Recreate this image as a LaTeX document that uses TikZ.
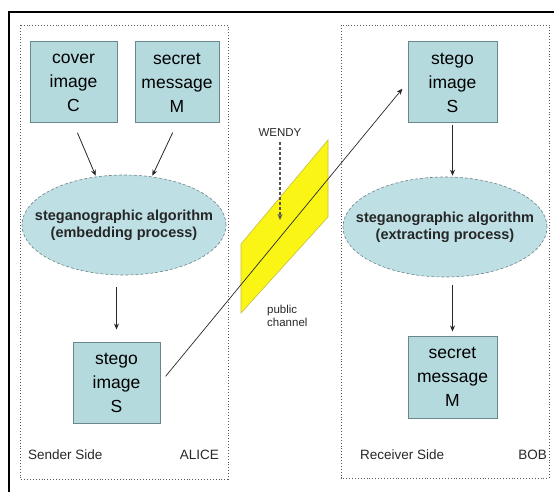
\documentclass[tikz,border=0pt]{standalone}
\usepackage{fontspec}
\setmainfont{Liberation Sans}
\usetikzlibrary{shapes.geometric,arrows.meta}

\definecolor{boxfill}{RGB}{180,218,222}
\definecolor{boxline}{RGB}{105,135,140}
\definecolor{ellfill}{RGB}{190,224,229}
\definecolor{ellline}{RGB}{110,130,135}
\definecolor{chanfill}{RGB}{250,245,20}
\definecolor{chanline}{RGB}{200,190,60}
\definecolor{ink}{RGB}{40,40,40}

\tikzset{
  databox/.style={draw=boxline, line width=1pt, fill=boxfill, align=center,
    font=\fontsize{17.5}{24}\selectfont, inner sep=0pt},
  algo/.style={ellipse, draw=ellline, densely dashed, line width=0.6pt, fill=ellfill,
    inner sep=0pt, minimum width=204pt, minimum height=100pt},
  algotext/.style={align=center, inner sep=0pt, text=black!85,
    font=\bfseries\fontsize{14.5}{17}\selectfont},
  sidebox/.style={draw=gray!70!black, dotted, line width=0.9pt},
  flow/.style={draw=ink, line width=0.8pt, -{Stealth[length=6pt,width=5pt]}},
  caption/.style={font=\fontsize{13.5}{15}\selectfont, text=ink, inner sep=0pt},
}

\begin{document}
\begin{tikzpicture}[x=1pt, y=-1pt]
  \useasboundingbox (0,0) rectangle (554,492);
  \fill[white] (0,0) rectangle (554,492);

  % outer frame (top and left edges)
  \draw[black, line width=1.8pt] (9,492) -- (9,12) -- (554,12);

  % sender and receiver areas
  \draw[sidebox] (20,25) rectangle (228,479);
  \draw[sidebox] (341,25) rectangle (549,478);

  % public channel
  \fill[chanfill, draw=chanline, line width=0.6pt]
    (241,244) -- (328,140) -- (328,217) -- (241,313) -- cycle;
  \node[inner sep=0pt, font=\fontsize{11.5}{13}\selectfont, text=ink, align=left, anchor=north west]
    (pub) at (267,305) {public\\channel};

  % sender side
  \node[databox, minimum width=87pt, minimum height=81pt] (cover) at (73.5,82.5)
    {cover\\image\\C};
  \node[databox, minimum width=84pt, minimum height=81pt] (secret) at (177,82.5)
    {secret\\message\\M};
  \node[algo] (enc) at (124,225) {};
  \node[algotext] (enctext) at (enc.center)
    {steganographic algorithm\\(embedding process)};
  \node[databox, minimum width=87pt, minimum height=81pt] (stegoA) at (116.5,382.5)
    {stego\\image\\S};
  \node[caption, anchor=west] (sender) at (28,455) {Sender Side};
  \node[caption, anchor=east] (alice) at (219,455) {ALICE};

  % receiver side
  \node[databox, minimum width=89pt, minimum height=81pt] (stegoB) at (452.5,82.5)
    {stego\\image\\S};
  \node[algo] (dec) at (445,227) {};
  \node[algotext] (dectext) at (dec.center)
    {steganographic algorithm\\(extracting process)};
  \node[databox, minimum width=89pt, minimum height=82pt] (secretB) at (452.5,377)
    {secret\\message\\M};
  \node[caption, anchor=west] (receiver) at (360,455) {Receiver Side};
  \node[caption, anchor=east] (bob) at (547,455) {BOB};

  % eavesdropper
  \node[inner sep=1pt, font=\fontsize{11.5}{13}\selectfont, text=ink] (wendy) at (280,133) {WENDY};
  \coordinate (tap) at (280,220);
  \draw[flow, densely dashed, line width=1.4pt, draw=ink!80] (wendy.south) ++(0,4) -- (tap);

  % data flow
  \draw[flow, shorten <=10pt, shorten >=1pt] (cover.south) -- (enc.120);
  \draw[flow, shorten <=10pt, shorten >=1pt] (secret.south) -- (enc.60);
  \draw[flow, shorten <=12pt, shorten >=12pt] (stegoA.north |- enc.south) -- (stegoA.north);
  \draw[flow, shorten <=2pt, shorten >=1pt] (stegoB.south) -- (stegoB.south |- dec.north);
  \draw[flow, shorten <=8pt, shorten >=4pt] (secretB.north |- dec.south) -- (secretB.north);
  \draw[flow, line width=0.7pt, shorten <=8pt, shorten >=8pt] (stegoA.east) -- (stegoB.west);
\end{tikzpicture}
\end{document}
